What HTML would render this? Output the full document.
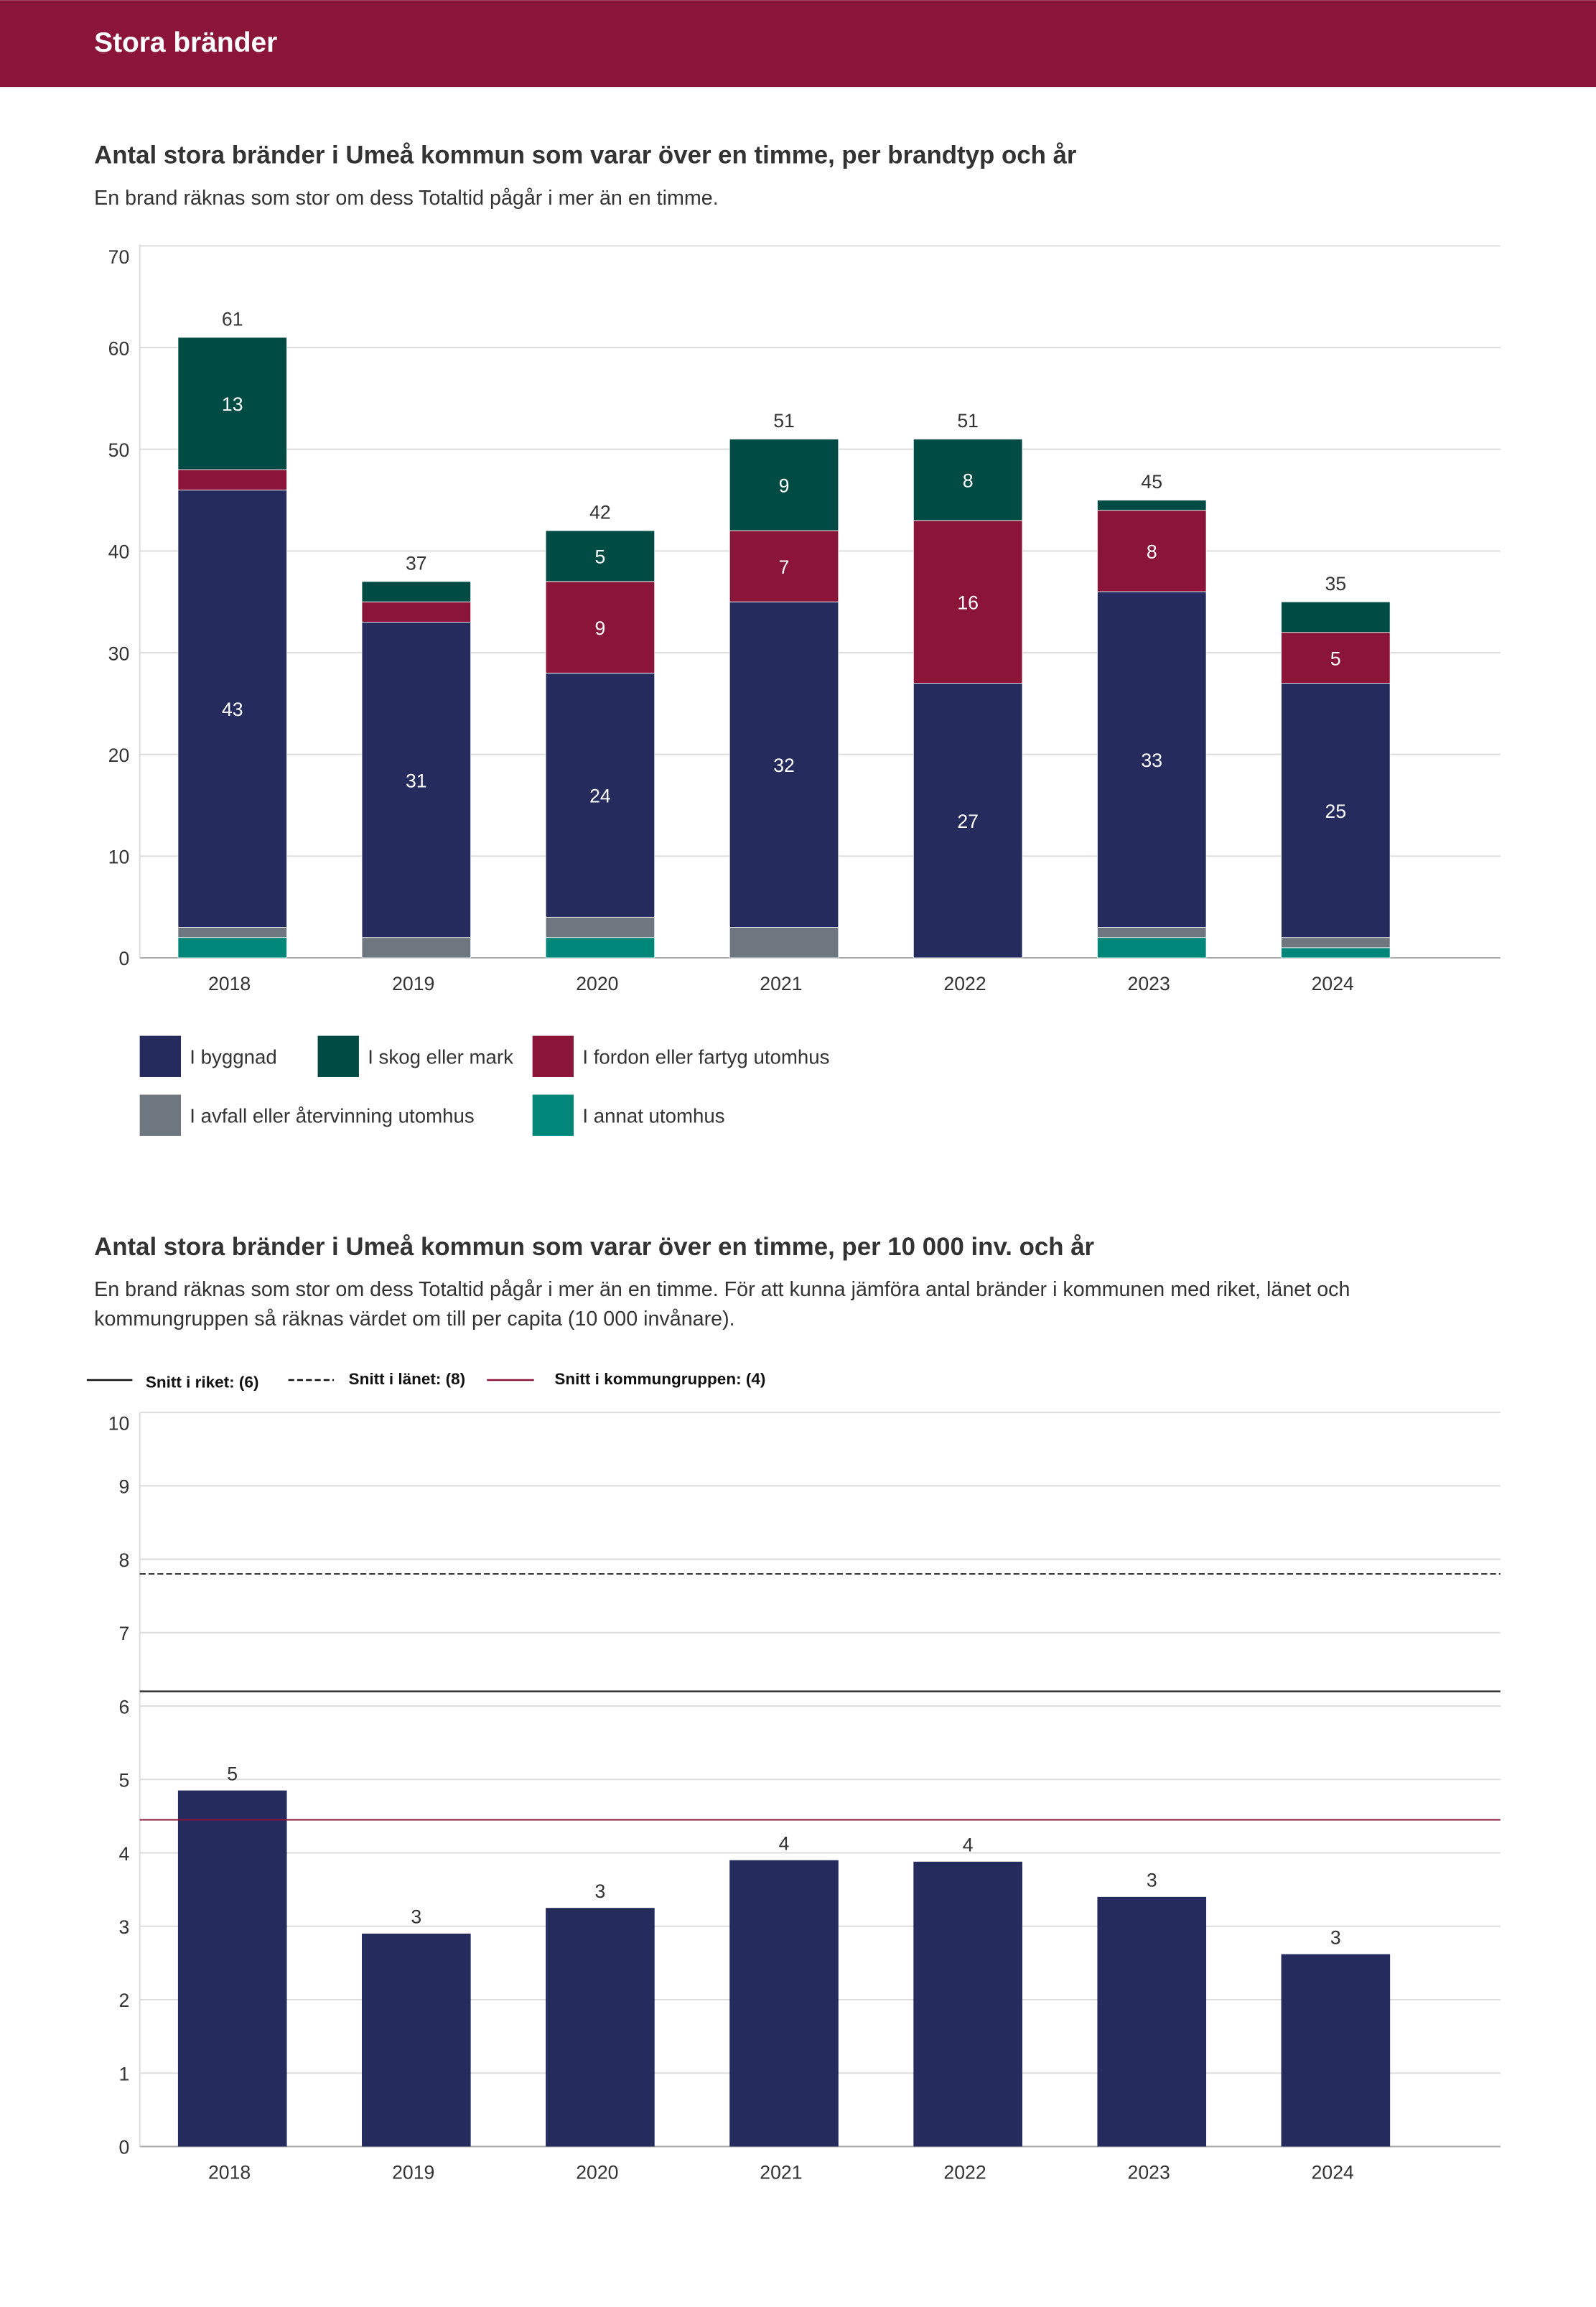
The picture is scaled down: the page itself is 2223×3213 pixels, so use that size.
<!DOCTYPE html>
<html><head><meta charset="utf-8"><style>
html,body{margin:0;padding:0;background:#fff;}
svg{display:block;font-family:"Liberation Sans",sans-serif;}
</style></head><body>
<svg id="s" width="2223" height="3213" viewBox="0 0 1085 1568" xmlns="http://www.w3.org/2000/svg">
<rect x="0" y="0" width="1085" height="59" fill="#8B1538"/>
<text x="64" y="35" fill="#fff" font-size="19" font-weight="bold">Stora bränder</text>
<text x="64" y="111" fill="#333" font-size="17" font-weight="bold">Antal stora bränder i Umeå kommun som varar över en timme, per brandtyp och år</text>
<text x="64" y="139" fill="#333" font-size="14">En brand räknas som stor om dess Totaltid pågår i mer än en timme.</text>
<g id="c1"></g>
<g id="l1"></g>
<text x="64" y="853" fill="#333" font-size="17" font-weight="bold">Antal stora bränder i Umeå kommun som varar över en timme, per 10 000 inv. och år</text>
<text x="64" y="881" fill="#333" font-size="14">En brand räknas som stor om dess Totaltid pågår i mer än en timme. För att kunna jämföra antal bränder i kommunen med riket, länet och</text>
<text x="64" y="901" fill="#333" font-size="14">kommungruppen så räknas värdet om till per capita (10 000 invånare).</text>
<g>
<line x1="59" y1="938" x2="90" y2="938" stroke="#111" stroke-width="1.2"/>
<text x="99" y="943" font-size="11" font-weight="bold" fill="#111">Snitt i riket: (6)</text>
<line x1="196" y1="938" x2="227" y2="938" stroke="#111" stroke-width="1.2" stroke-dasharray="4,2"/>
<text x="237" y="941" font-size="11" font-weight="bold" fill="#111">Snitt i länet: (8)</text>
<line x1="331" y1="938" x2="363" y2="938" stroke="#8B1538" stroke-width="1.2"/>
<text x="377" y="941" font-size="11" font-weight="bold" fill="#111">Snitt i kommungruppen: (4)</text>
</g>
<g id="c2"></g>
</svg>
<script>
const years=["2018","2019","2020","2021","2022","2023","2024"];
const byggnad=[43,31,24,32,27,33,25];
const skog=[13,2,5,9,8,1,3];
const fordon=[2,2,9,7,16,8,5];
const avfall=[1,2,2,3,0,1,1];
const annat=[2,0,2,0,0,2,1];
const ticks1=[0,10,20,30,40,50,60,70];
const perCapita=[4.85,2.9,3.25,3.9,3.88,3.4,2.62];
const perCapitaLabels=["5","3","3","4","4","3","3"];
const ticks2=[0,1,2,3,4,5,6,7,8,9,10];
const snittRiket=6.2, snittLanet=7.8, snittKommungrupp=4.45;

const NS="http://www.w3.org/2000/svg";
function mk(p,t,a,txt){const e=document.createElementNS(NS,t);for(const k in a)e.setAttribute(k,a[k]);if(txt!==undefined)e.textContent=txt;p.appendChild(e);return e;}
const xC=i=>158+125*i, BW=74;
// chart1
const c1=document.getElementById('c1');
const y1=v=>651-v*(484/70);
ticks1.forEach(t=>{
 const l=mk(c1,'line',{x1:95,x2:1020,y1:y1(t),y2:y1(t),stroke:t==0?'#aaa':'#ddd','stroke-width':1});
 
 
 const tx=mk(c1,'text',{x:88,y:y1(t)+5+(t==70?7:0),'text-anchor':'end','font-size':13,fill:'#333'},t);
 
 
});
mk(c1,'line',{x1:95,x2:95,y1:166,y2:651,stroke:'#ddd'});
const series=[["annat",annat,"#00877A"],["avfall",avfall,"#6E7780"],["byggnad",byggnad,"#252B5C"],["fordon",fordon,"#8B1538"],["skog",skog,"#004B44"]];
years.forEach((yr,i)=>{
 let acc=0;
 series.forEach(([n,arr,c])=>{
  const v=arr[i]; if(!v){return;}
  const r=mk(c1,'rect',{x:xC(i)-BW/2,y:y1(acc+v),width:BW,height:y1(acc)-y1(acc+v),fill:c,stroke:'#fff','stroke-width':0.4});
  
  
  if(v>=5){const t=mk(c1,'text',{x:xC(i),y:y1(acc+v/2)+5,'text-anchor':'middle','font-size':13,fill:'#fff'},v);
   
   }
  acc+=v;
 });
 const tt=mk(c1,'text',{x:xC(i),y:y1(acc)-8,'text-anchor':'middle','font-size':13,fill:'#333'},acc);
 
 
 const xl=mk(c1,'text',{x:xC(i)-2,y:673,'text-anchor':'middle','font-size':13,fill:'#333'},yr);
 
 
});
// legend1
const l1=document.getElementById('l1');
[["I byggnad","#252B5C",95,704],["I skog eller mark","#004B44",216,704],["I fordon eller fartyg utomhus","#8B1538",362,704],["I avfall eller återvinning utomhus","#6E7780",95,744],["I annat utomhus","#00877A",362,744]].forEach(([lab,c,x,y])=>{
 const r=mk(l1,'rect',{x:x,y:y,width:28,height:28,fill:c});
 
 
 const t=mk(l1,'text',{x:x+34,y:y+19,'font-size':13.5,fill:'#333'},lab);
 
 
});
// chart2
const c2=document.getElementById('c2');
const y2=v=>1459-v*49.9;
ticks2.forEach(t=>{
 const l=mk(c2,'line',{x1:95,x2:1020,y1:y2(t),y2:y2(t),stroke:t==0?'#aaa':'#ddd','stroke-width':1});
 
 
 const tx=mk(c2,'text',{x:88,y:y2(t)+5+(t==10?7:0),'text-anchor':'end','font-size':13,fill:'#333'},t);
 
 
});
mk(c2,'line',{x1:95,x2:95,y1:960,y2:1459,stroke:'#ddd'});
years.forEach((yr,i)=>{
 const v=perCapita[i];
 const r=mk(c2,'rect',{x:xC(i)-BW/2,y:y2(v),width:BW,height:y2(0)-y2(v),fill:'#252B5C'});
 
 
 const t=mk(c2,'text',{x:xC(i),y:y2(v)-7,'text-anchor':'middle','font-size':13,fill:'#333'},perCapitaLabels[i]);
 
 
 const xl=mk(c2,'text',{x:xC(i)-2,y:1481,'text-anchor':'middle','font-size':13,fill:'#333'},yr);
 
 
});
const lr=mk(c2,'line',{x1:95,x2:1020,y1:y2(snittRiket),y2:y2(snittRiket),stroke:'#333','stroke-width':1.2});


const ll=mk(c2,'line',{x1:95,x2:1020,y1:y2(snittLanet),y2:y2(snittLanet),stroke:'#333','stroke-width':1,'stroke-dasharray':'4,2'});


const lk=mk(c2,'line',{x1:95,x2:1020,y1:y2(snittKommungrupp),y2:y2(snittKommungrupp),stroke:'#8B1538','stroke-width':1});


</script>
</body></html>
